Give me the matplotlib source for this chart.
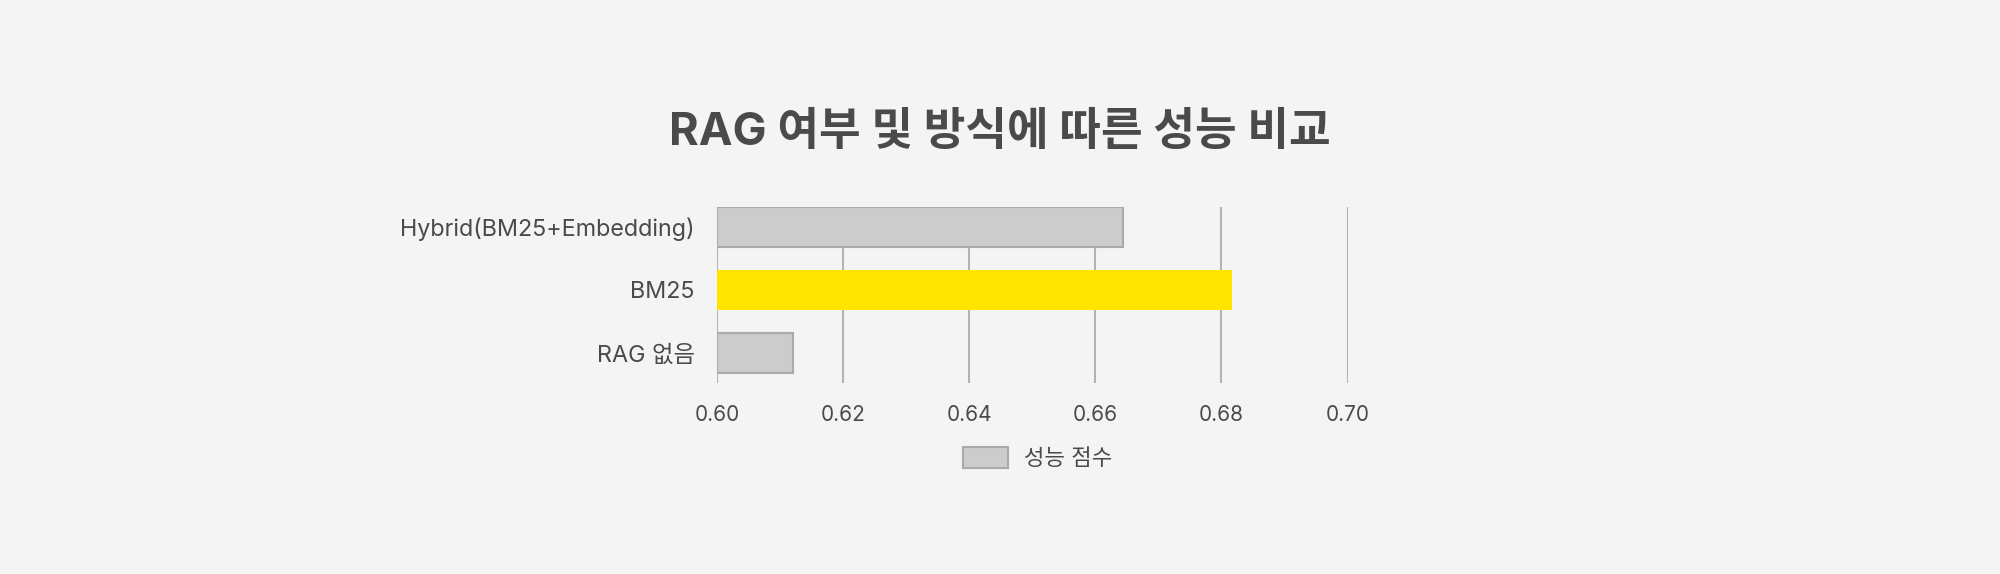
import matplotlib
matplotlib.use("Agg")
import matplotlib.pyplot as plt
from matplotlib.patches import Patch

plt.rcParams['font.family'] = ['Inter', 'Noto Sans CJK KR', 'DejaVu Sans']

# data
categories = ['Hybrid(BM25+Embedding)', 'BM25', 'RAG 없음']
scores = [0.6644, 0.6816, 0.6121]
highlight = 'BM25'
x_ticks = [0.60, 0.62, 0.64, 0.66, 0.68, 0.70]
title = 'RAG 여부 및 방식에 따른 성능 비교'
legend_label = '성능 점수'

bg = '#f4f4f4'
gray_fill = '#cccccc'
gray_edge = '#aaaaaa'
yellow = '#ffe400'
text_col = '#4a4a4a'
grid_col = '#b3b3b3'

fig = plt.figure(figsize=(20, 5.74), dpi=100, facecolor=bg)
ax = fig.add_axes([0.3585, 0.3333, 0.3153, 0.3066])
ax.set_facecolor(bg)

ypos = list(range(len(categories)))[::-1]
for y, cat, val in zip(ypos, categories, scores):
    if cat == highlight:
        ax.barh(y, val - 0.6, left=0.6, height=0.64, color=yellow, linewidth=0, zorder=3)
    else:
        ax.barh(y, val - 0.6, left=0.6, height=0.64, color=gray_fill,
                edgecolor=gray_edge, linewidth=1.5, zorder=3)

ax.set_xlim(0.6, 0.7)
ax.set_ylim(-0.47, 2.32)
ax.set_xticks(x_ticks)
ax.set_xticklabels(['%.2f' % t for t in x_ticks])
ax.set_yticks(ypos)
ax.set_yticklabels(categories)
ax.xaxis.grid(True, color=grid_col, linewidth=1.5, zorder=0)
ax.set_axisbelow(True)
for s in ax.spines.values():
    s.set_visible(False)
ax.tick_params(axis='x', length=0, pad=16, labelsize=15, labelcolor=text_col)
ax.tick_params(axis='y', length=0, pad=16, labelsize=16.8, labelcolor=text_col)

fig.text(0.5, 0.768, title, ha='center', va='center', fontsize=32.6,
         fontweight='bold', color=text_col)

handle = Patch(facecolor=gray_fill, edgecolor=gray_edge, linewidth=1.5)
fig.legend([handle], [legend_label], loc='center', bbox_to_anchor=(0.519, 0.202),
           frameon=False, fontsize=16, handlelength=2.0, handleheight=1.08,
           handletextpad=0.75, labelcolor=text_col)

fig.savefig('out.png', dpi=100, facecolor=bg)
